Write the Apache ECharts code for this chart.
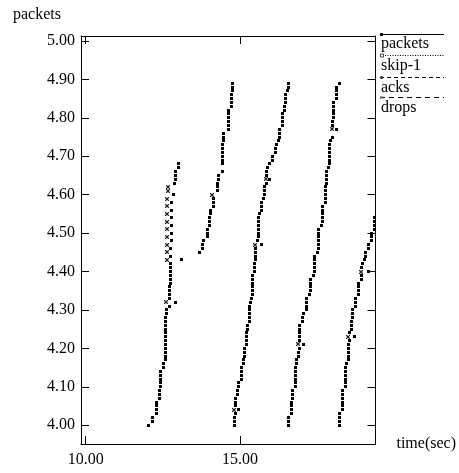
<!DOCTYPE html>
<html>
<head>
<meta charset="utf-8">
<script src="https://cdn.jsdelivr.net/npm/echarts@6/dist/echarts.min.js"></script>
<style>
  html, body { margin: 0; padding: 0; background: #fff; }
  #chart { width: 459px; height: 473px; }
</style>
</head>
<body>
<div id="chart"></div>
<script>
// Sequence-number trace: time (s) vs packet number (mod, scaled)
const xTicks = [10, 15];
const yTicks = [4.0, 4.1, 4.2, 4.3, 4.4, 4.5, 4.6, 4.7, 4.8, 4.9, 5.0];
const legendNames = ['packets', 'skip-1', 'acks', 'drops'];

// Sent packets, one array per window burst: [time, seq]
const burst1 = [[12.04,4.00],[12.18,4.01],[12.18,4.02],[12.28,4.03],[12.31,4.04],[12.31,4.05],[12.31,4.06],[12.40,4.07],[12.40,4.08],[12.40,4.09],[12.44,4.10],[12.44,4.11],[12.44,4.12],[12.44,4.13],[12.44,4.14],[12.53,4.15],[12.53,4.16],[12.57,4.17],[12.57,4.18],[12.57,4.19],[12.57,4.20],[12.57,4.21],[12.57,4.22],[12.60,4.23],[12.60,4.24],[12.60,4.25],[12.60,4.26],[12.60,4.27],[12.60,4.28],[12.63,4.29],[12.63,4.30],[12.70,4.31],[12.92,4.32],[12.73,4.33],[12.73,4.34],[12.73,4.35],[12.73,4.36],[12.76,4.37],[12.76,4.38],[12.76,4.39],[12.76,4.40],[12.76,4.41],[12.76,4.42],[13.12,4.43],[12.76,4.44],[12.76,4.46],[12.79,4.48],[12.79,4.50],[12.79,4.52],[12.79,4.54],[12.79,4.56],[12.79,4.58],[12.83,4.60],[12.89,4.63],[12.92,4.64],[12.92,4.65],[12.92,4.66],[13.02,4.67],[13.02,4.68]];
const burst2 = [[13.70,4.45],[13.80,4.46],[13.80,4.47],[13.83,4.48],[13.93,4.49],[13.93,4.50],[13.93,4.51],[14.02,4.52],[14.02,4.53],[14.02,4.54],[14.05,4.55],[14.05,4.56],[14.15,4.57],[14.15,4.58],[14.15,4.59],[14.28,4.61],[14.28,4.62],[14.28,4.63],[14.31,4.64],[14.31,4.65],[14.44,4.66],[14.44,4.68],[14.44,4.69],[14.44,4.70],[14.44,4.71],[14.44,4.72],[14.44,4.73],[14.48,4.74],[14.48,4.75],[14.48,4.76],[14.61,4.77],[14.61,4.78],[14.61,4.79],[14.61,4.80],[14.61,4.81],[14.64,4.82],[14.73,4.83],[14.73,4.84],[14.73,4.85],[14.73,4.86],[14.77,4.87],[14.77,4.88],[14.77,4.89]];
const burst3 = [[14.83,4.00],[14.83,4.01],[14.83,4.02],[14.86,4.03],[14.96,4.04],[14.86,4.05],[14.86,4.06],[14.86,4.07],[14.93,4.08],[14.93,4.09],[14.96,4.10],[14.96,4.11],[15.06,4.12],[15.06,4.13],[15.06,4.14],[15.06,4.15],[15.12,4.16],[15.12,4.17],[15.16,4.18],[15.16,4.19],[15.16,4.20],[15.22,4.21],[15.22,4.22],[15.22,4.23],[15.22,4.24],[15.25,4.25],[15.25,4.26],[15.32,4.27],[15.32,4.28],[15.32,4.29],[15.32,4.30],[15.32,4.31],[15.35,4.32],[15.38,4.33],[15.41,4.34],[15.41,4.35],[15.41,4.36],[15.41,4.37],[15.41,4.38],[15.41,4.39],[15.48,4.40],[15.48,4.41],[15.48,4.42],[15.51,4.43],[15.51,4.44],[15.51,4.45],[15.51,4.46],[15.71,4.47],[15.58,4.48],[15.61,4.49],[15.61,4.50],[15.61,4.51],[15.61,4.52],[15.61,4.53],[15.61,4.54],[15.64,4.55],[15.71,4.56],[15.71,4.57],[15.71,4.58],[15.77,4.59],[15.80,4.60],[15.80,4.61],[15.80,4.62],[15.87,4.63],[15.96,4.64],[15.87,4.65],[15.87,4.66],[15.90,4.67],[15.96,4.68],[16.06,4.69],[16.06,4.70],[16.16,4.71],[16.16,4.72],[16.19,4.73],[16.26,4.74],[16.29,4.75],[16.29,4.76],[16.29,4.77],[16.39,4.78],[16.39,4.79],[16.39,4.80],[16.39,4.81],[16.45,4.82],[16.45,4.83],[16.48,4.84],[16.48,4.85],[16.48,4.86],[16.55,4.87],[16.58,4.88],[16.58,4.89]];
const burst4 = [[16.58,4.00],[16.58,4.01],[16.58,4.02],[16.68,4.03],[16.68,4.04],[16.68,4.05],[16.68,4.06],[16.71,4.07],[16.71,4.08],[16.71,4.09],[16.81,4.10],[16.81,4.11],[16.81,4.12],[16.81,4.13],[16.81,4.14],[16.81,4.15],[16.84,4.16],[16.84,4.17],[16.90,4.18],[16.90,4.19],[16.94,4.20],[17.06,4.21],[16.94,4.22],[16.94,4.23],[16.94,4.24],[16.94,4.25],[16.94,4.26],[17.03,4.27],[17.03,4.28],[17.06,4.29],[17.16,4.30],[17.16,4.31],[17.16,4.32],[17.16,4.33],[17.26,4.34],[17.29,4.35],[17.29,4.36],[17.29,4.37],[17.29,4.38],[17.39,4.39],[17.42,4.40],[17.42,4.41],[17.42,4.42],[17.42,4.43],[17.42,4.44],[17.52,4.45],[17.55,4.46],[17.55,4.47],[17.55,4.48],[17.55,4.49],[17.55,4.50],[17.55,4.51],[17.65,4.52],[17.68,4.53],[17.68,4.54],[17.68,4.55],[17.68,4.56],[17.68,4.57],[17.78,4.58],[17.78,4.59],[17.78,4.60],[17.78,4.61],[17.78,4.62],[17.81,4.63],[17.81,4.64],[17.81,4.65],[17.81,4.66],[17.87,4.67],[17.91,4.68],[17.91,4.69],[17.91,4.70],[17.91,4.71],[17.91,4.72],[17.91,4.73],[17.94,4.74],[18.00,4.75],[18.13,4.77],[18.00,4.78],[18.00,4.79],[18.04,4.80],[18.04,4.81],[18.04,4.82],[18.04,4.83],[18.04,4.84],[18.13,4.85],[18.13,4.86],[18.13,4.87],[18.13,4.88],[18.23,4.89]];
const burst5 = [[18.23,4.00],[18.23,4.01],[18.23,4.02],[18.23,4.03],[18.33,4.04],[18.33,4.05],[18.33,4.06],[18.33,4.07],[18.33,4.08],[18.33,4.09],[18.42,4.10],[18.42,4.11],[18.42,4.12],[18.42,4.13],[18.42,4.14],[18.42,4.15],[18.46,4.16],[18.52,4.17],[18.52,4.18],[18.52,4.19],[18.52,4.20],[18.52,4.21],[18.55,4.22],[18.72,4.23],[18.55,4.24],[18.62,4.25],[18.62,4.26],[18.62,4.27],[18.65,4.28],[18.65,4.29],[18.65,4.30],[18.75,4.31],[18.75,4.32],[18.75,4.33],[18.84,4.34],[18.84,4.35],[18.84,4.36],[18.84,4.37],[18.94,4.38],[18.94,4.39],[19.17,4.40],[18.94,4.41],[18.97,4.42],[19.03,4.43],[19.07,4.44],[19.07,4.45],[19.17,4.46],[19.17,4.47],[19.27,4.48],[19.27,4.49],[19.27,4.50],[19.36,4.51],[19.36,4.52],[19.36,4.53],[19.36,4.54]];

// Dropped packets: [time, seq]
const drops = [[12.59,4.32],[12.62,4.43],[12.64,4.45],[12.64,4.47],[12.64,4.49],[12.64,4.51],[12.64,4.53],[12.64,4.55],[12.64,4.57],[12.64,4.59],[12.66,4.61],[12.66,4.62],[14.09,4.60],[14.80,4.04],[15.48,4.47],[15.84,4.64],[16.87,4.21],[17.97,4.77],[18.49,4.23],[18.91,4.40]];

const packets = [].concat(burst1, burst2, burst3, burst4, burst5);

const FONT = '"Liberation Serif", "Times New Roman", serif';
const INK = '#000';
const X_MIN = 9.85, X_MAX = 19.385;
const Y_MIN = 3.951, Y_MAX = 5.013;

function frameAxis(extra) {
  return Object.assign({
    type: 'value',
    axisLine: { show: true, onZero: false, lineStyle: { color: INK, width: 1 } },
    axisTick: { show: true, inside: true, length: 8, lineStyle: { color: INK, width: 1 } },
    splitLine: { show: false },
    axisLabel: { show: false }
  }, extra);
}

const tickLabel = {
  show: true, color: INK, fontFamily: FONT, fontSize: 16,
  formatter: v => Number(v).toFixed(2)
};

// Pixel-snapped square marker at a data point
function packetMark(params, api) {
  const p = api.coord([api.value(0), api.value(1)]);
  return {
    type: 'rect',
    shape: { x: Math.round(p[0] - 1.5), y: Math.round(p[1] - 1.5), width: 3, height: 3 },
    style: { fill: INK }
  };
}

// Grey square crossed by an X, for drops
function dropMark(params, api) {
  const p = api.coord([api.value(0), api.value(1)]);
  const x = Math.round(p[0] - 2), y = Math.round(p[1] - 2);
  return {
    type: 'group',
    children: [
      { type: 'rect', shape: { x: x, y: y, width: 4, height: 4 }, style: { fill: '#aaa' } },
      { type: 'line', shape: { x1: x, y1: y, x2: x + 4, y2: y + 4 }, style: { stroke: '#222', lineWidth: 1 } },
      { type: 'line', shape: { x1: x + 4, y1: y, x2: x, y2: y + 4 }, style: { stroke: '#222', lineWidth: 1 } }
    ]
  };
}

// Legend: sample line with end marker, name underneath
const legendLineY = [34.5, 55.5, 77.5, 97.5];
const legendTextY = [43.5, 65.5, 87.5, 107.5];
const legendDash = [null, [1, 1.5], [4, 3], [5, 4]];
const legendGraphics = [];
legendNames.forEach((name, i) => {
  legendGraphics.push({
    type: 'line', silent: true,
    shape: { x1: 380, y1: legendLineY[i], x2: 444, y2: legendLineY[i] },
    style: { stroke: INK, lineWidth: 1, lineDash: legendDash[i] }
  });
  legendGraphics.push({
    type: 'text', silent: true,
    style: { text: name, x: 381, y: legendTextY[i], fill: INK, font: '16px ' + FONT, textVerticalAlign: 'middle', verticalAlign: 'middle' }
  });
});
legendGraphics.push(
  { type: 'rect', silent: true, shape: { x: 380, y: legendLineY[0] - 1.5, width: 3, height: 3 }, style: { fill: INK } },
  { type: 'rect', silent: true, shape: { x: 380.5, y: legendLineY[1] - 1.5, width: 3, height: 3 }, style: { fill: '#fff', stroke: '#444', lineWidth: 1 } },
  { type: 'circle', silent: true, shape: { cx: 381.5, cy: legendLineY[2], r: 1.6 }, style: { fill: '#333' } },
  { type: 'rect', silent: true, shape: { x: 380, y: legendLineY[3] - 1, width: 3, height: 2 }, style: { fill: '#555' } }
);

const chart = echarts.init(document.getElementById('chart'), null, { renderer: 'canvas' });
chart.setOption({
  animation: false,
  backgroundColor: '#fff',
  grid: { left: 81, right: 83, top: 36, bottom: 29, containLabel: false },
  xAxis: [
    frameAxis({
      position: 'bottom', min: X_MIN, max: X_MAX,
      axisTick: { show: true, inside: true, length: 8, customValues: xTicks, lineStyle: { color: INK, width: 1 } },
      axisLabel: Object.assign({ customValues: xTicks, margin: 8 }, tickLabel),
      name: 'time(sec)', nameLocation: 'end', nameGap: 21,
      nameTextStyle: { color: INK, fontFamily: FONT, fontSize: 16, verticalAlign: 'middle', padding: [0, 0, 2, 0] }
    }),
    frameAxis({
      position: 'top', min: X_MIN, max: X_MAX,
      axisTick: { show: true, inside: true, length: 8, customValues: xTicks, lineStyle: { color: INK, width: 1 } }
    })
  ],
  yAxis: [
    frameAxis({
      position: 'left', min: Y_MIN, max: Y_MAX,
      axisTick: { show: true, inside: true, length: 8, customValues: yTicks, lineStyle: { color: INK, width: 1 } },
      axisLabel: Object.assign({ customValues: yTicks, margin: 6 }, tickLabel)
    }),
    frameAxis({
      position: 'right', min: Y_MIN, max: Y_MAX,
      axisTick: { show: true, inside: true, length: 8, customValues: yTicks, lineStyle: { color: INK, width: 1 } }
    })
  ],
  graphic: [
    { type: 'text', silent: true, style: { text: 'packets', x: 13, y: 15, fill: INK, font: '16px ' + FONT, textVerticalAlign: 'middle', verticalAlign: 'middle' } }
  ].concat(legendGraphics),
  series: [
    {
      name: 'packets', type: 'custom', xAxisIndex: 0, yAxisIndex: 0,
      data: packets, renderItem: packetMark, silent: true
    },
    {
      name: 'drops', type: 'custom', xAxisIndex: 0, yAxisIndex: 0,
      data: drops, renderItem: dropMark, silent: true
    }
  ]
});
</script>
</body>
</html>
